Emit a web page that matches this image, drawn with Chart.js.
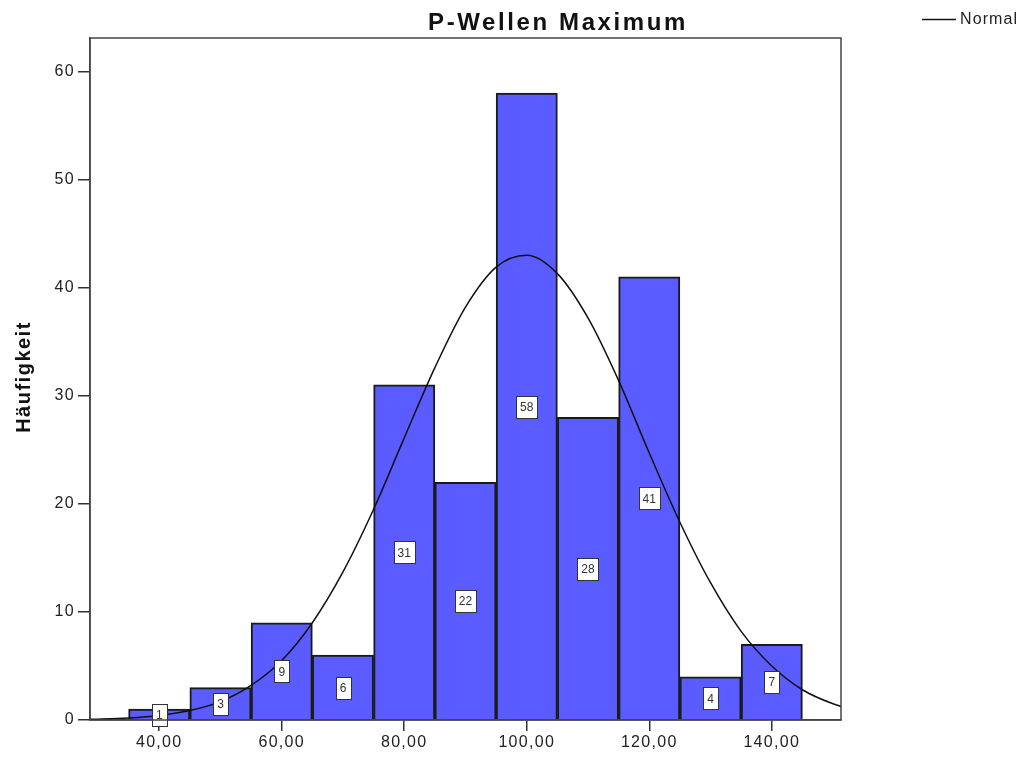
<!DOCTYPE html>
<html>
<head>
<meta charset="utf-8">
<script src="https://cdn.jsdelivr.net/npm/chart.js@4.4.1/dist/chart.umd.min.js"></script>
<style>
html,body{margin:0;padding:0;background:#fff;}
#wrap{width:1027px;height:758px;}
</style>
</head>
<body>
<div id="wrap"><canvas id="c" width="1027" height="758"></canvas></div>
<script>
// ---- data ----
const binCenters = [40, 50, 60, 70, 80, 90, 100, 110, 120, 130, 140];
const frequencies = [1, 3, 9, 6, 31, 22, 58, 28, 41, 4, 7];
const curveX = [25, 30, 35, 40, 45, 50, 55, 60, 65, 70, 75, 80, 85, 90, 95, 100, 105, 110, 115, 120, 125, 130, 135, 140, 145, 150, 155];
const curveY = [0.03, 0.08, 0.18, 0.41, 0.87, 1.7, 3.2, 5.5, 9.0, 13.7, 19.5, 26.1, 32.6, 38.2, 41.9, 43.0, 41.3, 37.2, 31.4, 24.7, 18.3, 12.7, 8.2, 5.0, 2.8, 1.5, 0.7];
const xTickValues = [40, 60, 80, 100, 120, 140];
const yTickValues = [0, 10, 20, 30, 40, 50, 60];
const chartTitle = 'P-Wellen Maximum';
const yTitle = 'Häufigkeit';
const legendLabel = 'Normal';

const barData = binCenters.map((x, i) => ({x: x, y: frequencies[i]}));
const lineData = curveX.map((x, i) => ({x: x, y: curveY[i]}));

const fontFam = '"Liberation Sans", Arial, sans-serif';

const decorPlugin = {
  id: 'decor',
  beforeDraw(chart) {
    chart.ctx.letterSpacing = '1.3px';
  },
  afterDatasetsDraw(chart) {
    const ctx = chart.ctx;
    const xs = chart.scales.x, ys = chart.scales.y;
    ctx.save();
    ctx.letterSpacing = '0px';
    ctx.font = '12px ' + fontFam;
    ctx.textAlign = 'center';
    ctx.textBaseline = 'middle';
    binCenters.forEach((c, i) => {
      const v = frequencies[i];
      const px = xs.getPixelForValue(c);
      const py = ys.getPixelForValue(v / 2);
      const t = String(v);
      const w = ctx.measureText(t).width + 8;
      const h = 22;
      ctx.fillStyle = '#fff';
      ctx.fillRect(Math.round(px - w / 2) + 0.5, Math.round(py - h / 2) + 0.5, Math.round(w), h);
      ctx.strokeStyle = '#333';
      ctx.lineWidth = 1;
      ctx.strokeRect(Math.round(px - w / 2) + 0.5, Math.round(py - h / 2) + 0.5, Math.round(w), h);
      ctx.fillStyle = '#333';
      ctx.fillText(t, px, py + 1);
    });
    ctx.restore();
  },
  afterDraw(chart) {
    const ctx = chart.ctx;
    const a = chart.chartArea;
    ctx.save();
    // frame
    ctx.strokeStyle = '#444';
    ctx.lineWidth = 1.5;
    ctx.strokeRect(a.left, a.top, a.right - a.left, a.bottom - a.top);
    // title
    ctx.fillStyle = '#111';
    ctx.font = 'bold 24px ' + fontFam;
    ctx.letterSpacing = '2.6px';
    ctx.textAlign = 'center';
    ctx.textBaseline = 'alphabetic';
    ctx.fillText(chartTitle, 558, 30);
    // y title
    ctx.save();
    ctx.translate(30, 377);
    ctx.rotate(-Math.PI / 2);
    ctx.font = 'bold 20px ' + fontFam;
    ctx.letterSpacing = '1.5px';
    ctx.fillText(yTitle, 0, 0);
    ctx.restore();
    // legend
    ctx.strokeStyle = '#111';
    ctx.lineWidth = 1.5;
    ctx.beginPath();
    ctx.moveTo(922, 19.5);
    ctx.lineTo(956, 19.5);
    ctx.stroke();
    ctx.font = '16px ' + fontFam;
    ctx.letterSpacing = '1.1px';
    ctx.textAlign = 'left';
    ctx.textBaseline = 'middle';
    ctx.fillStyle = '#222';
    ctx.fillText(legendLabel, 960, 20);
    ctx.restore();
  }
};

new Chart(document.getElementById('c'), {
  type: 'bar',
  data: {
    datasets: [
      {
        type: 'line',
        label: legendLabel,
        data: lineData,
        borderColor: '#111',
        borderWidth: 1.5,
        pointRadius: 0,
        tension: 0.4,
        cubicInterpolationMode: 'monotone',
        fill: false,
        order: 0
      },
      {
        type: 'bar',
        label: 'Häufigkeit',
        data: barData,
        backgroundColor: '#5a5cff',
        borderColor: '#1a1a1a',
        borderWidth: 2,
        barPercentage: 1.0,
        categoryPercentage: 1.0,
        order: 1
      }
    ]
  },
  options: {
    responsive: false,
    animation: false,
    events: [],
    layout: {padding: {left: 0, right: 186, top: 38, bottom: 0}},
    plugins: {
      legend: {display: false},
      title: {display: false},
      tooltip: {enabled: false}
    },
    scales: {
      x: {
        type: 'linear',
        min: 28.7,
        max: 151.3,
        offset: false,
        afterFit(s) { s.height = 38; },
        afterBuildTicks(s) { s.ticks = xTickValues.map(v => ({value: v})); },
        grid: {display: true, drawOnChartArea: false, drawTicks: true, tickLength: 11, color: '#333', lineWidth: 1.5, offset: false},
        border: {display: true, color: '#444', width: 1.5},
        ticks: {
          color: '#222',
          padding: 2,
          maxRotation: 0,
          autoSkip: false,
          font: {family: fontFam, size: 16},
          callback: v => v.toFixed(2).replace('.', ',')
        }
      },
      y: {
        type: 'linear',
        min: 0,
        max: 63.1,
        afterFit(s) { s.width = 90; },
        afterBuildTicks(s) { s.ticks = yTickValues.map(v => ({value: v})); },
        grid: {display: true, drawOnChartArea: false, drawTicks: true, tickLength: 12, color: '#333', lineWidth: 1.5},
        border: {display: true, color: '#444', width: 1.5},
        ticks: {
          color: '#222',
          padding: 3,
          font: {family: fontFam, size: 16},
          callback: v => String(v)
        }
      }
    }
  },
  plugins: [decorPlugin]
});
</script>
</body>
</html>
